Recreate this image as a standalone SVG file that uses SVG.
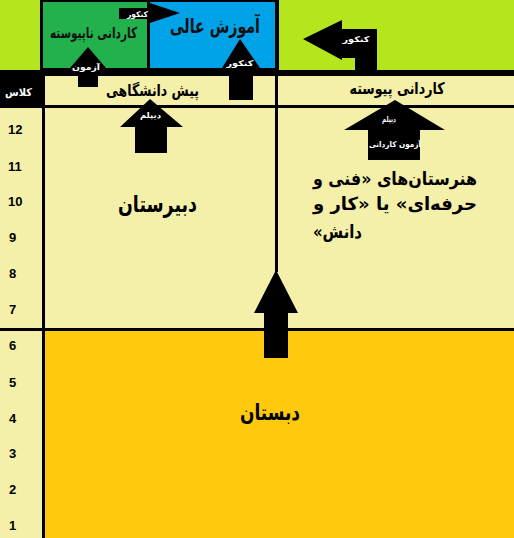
<svg xmlns="http://www.w3.org/2000/svg" width="514" height="538" viewBox="0 0 514 538">
<style>
.fa{font-family:"DejaVu Sans","Noto Sans",sans-serif;font-weight:bold;direction:rtl;unicode-bidi:embed;text-anchor:middle}
.dark{fill:#111}
.num{font-family:"Liberation Sans",Arial,sans-serif;font-weight:bold;font-size:13px;fill:#000}
.lbl{fill:#fff;font-size:8px}
.arrow{fill:#000}
.ln{stroke:#000;stroke-width:3;fill:none}
</style>
<g id="background">
<rect x="0" y="0" width="514" height="538" fill="#f4f0a9"/>
<rect x="0" y="0" width="514" height="70" fill="#b5e61d"/>
<rect x="0" y="70" width="514" height="6" fill="#000"/>
<rect x="45" y="331" width="469" height="207" fill="#ffc90e"/>
</g>
<g id="grid">
<line class="ln" x1="0" y1="106.5" x2="514" y2="106.5"/>
<line class="ln" x1="43.5" y1="76" x2="43.5" y2="538"/>
<line class="ln" x1="276.5" y1="76" x2="276.5" y2="272"/>
<line class="ln" x1="0" y1="329.5" x2="514" y2="329.5"/>
</g>
<g id="top-frame">
<rect x="40" y="0" width="239" height="70" fill="#000"/>
</g>
<g id="node-kardani-napeyvaste">
<rect x="43" y="2" width="104" height="66" fill="#22b14c"/>
<text class="fa dark" x="93.5" y="38" font-size="15" textLength="87" lengthAdjust="spacingAndGlyphs">کاردانی ناپیوسته</text>
</g>
<g id="node-amoozesh-ali">
<rect x="150" y="2" width="125" height="66" fill="#00a2e8"/>
<text class="fa dark" x="215" y="33" font-size="20" textLength="90" lengthAdjust="spacingAndGlyphs">آموزش عالی</text>
</g>
<g id="node-class-header">
<rect x="0" y="76" width="42" height="29" fill="#000"/>
<text class="fa" x="18.5" y="96" font-size="11" fill="#fff" textLength="27" lengthAdjust="spacingAndGlyphs">کلاس</text>
</g>
<g id="node-pish-daneshgahi">
<text class="fa" x="152.5" y="96" font-size="16" fill="#000" textLength="93" lengthAdjust="spacingAndGlyphs">پیش دانشگاهی</text>
</g>
<g id="node-kardani-peyvaste">
<text class="fa" x="397" y="94" font-size="16" fill="#000" textLength="95" lengthAdjust="spacingAndGlyphs">کاردانی پیوسته</text>
</g>
<g id="node-dabirestan">
<text class="fa" x="157.5" y="212" font-size="23" fill="#000" textLength="79" lengthAdjust="spacingAndGlyphs">دبیرستان</text>
</g>
<g id="node-honarestan">
<text class="fa" x="395" y="185" font-size="18" fill="#000" textLength="164" lengthAdjust="spacingAndGlyphs">هنرستان‌های «فنی و</text>
<text class="fa" x="395" y="210" font-size="18" fill="#000" textLength="164" lengthAdjust="spacingAndGlyphs">حرفه‌ای» یا «کار و</text>
<text class="fa" x="337.5" y="238" font-size="18" fill="#000" textLength="49" lengthAdjust="spacingAndGlyphs">دانش»&#x200F;</text>
</g>
<g id="node-dabestan">
<text class="fa" x="270" y="420" font-size="22" fill="#000" textLength="60" lengthAdjust="spacingAndGlyphs">دبستان</text>
</g>
<g id="grades">
<text class="num" x="8" y="133.5">12</text>
<text class="num" x="8" y="170.5">11</text>
<text class="num" x="8" y="205.5">10</text>
<text class="num" x="9" y="241.5">9</text>
<text class="num" x="9" y="277.5">8</text>
<text class="num" x="9" y="313.5">7</text>
<text class="num" x="9" y="349.5">6</text>
<text class="num" x="9" y="386.5">5</text>
<text class="num" x="9" y="422.5">4</text>
<text class="num" x="9" y="457.5">3</text>
<text class="num" x="9" y="493.5">2</text>
<text class="num" x="9" y="529.5">1</text>
</g>
<g id="connectors">
<polygon class="arrow" points="119,8 150,8 150,3 180,13 150,23 150,19 119,19"/>
<text class="fa lbl" x="137.5" y="17" textLength="21" lengthAdjust="spacingAndGlyphs">کنکور</text>
<polygon class="arrow" points="78,87 78,68 70,68 88,47 106,68 98,68 98,87"/>
<text class="fa lbl" x="86" y="70" textLength="28" lengthAdjust="spacingAndGlyphs">آزمون</text>
<polygon class="arrow" points="229,100 229,68 222,68 240,39 260,68 253,68 253,100"/>
<text class="fa lbl" x="240" y="66" textLength="27" lengthAdjust="spacingAndGlyphs">کنکور</text>
<polygon class="arrow" points="377,76 355,76 355,58 342,58 342,60 303,39 342,20 342,29 377,29"/>
<text class="fa lbl" x="356" y="42" textLength="27" lengthAdjust="spacingAndGlyphs">کنکور</text>
<polygon class="arrow" points="135,153 135,127 120,127 150,99 183,127 167,127 167,153"/>
<text class="fa lbl" x="150.5" y="118" textLength="21" lengthAdjust="spacingAndGlyphs">دیپلم</text>
<polygon class="arrow" points="368,160 368,130 344,130 395,100 445,130 420,130 420,160"/>
<text class="fa lbl" x="389" y="122" textLength="14" lengthAdjust="spacingAndGlyphs">دیپلم</text>
<text class="fa lbl" x="395" y="147" textLength="52" lengthAdjust="spacingAndGlyphs">آزمون کاردانی</text>
<polygon class="arrow" points="264,358 264,313 254,313 276,270 298,313 288,313 288,358"/>
</g>
</svg>
